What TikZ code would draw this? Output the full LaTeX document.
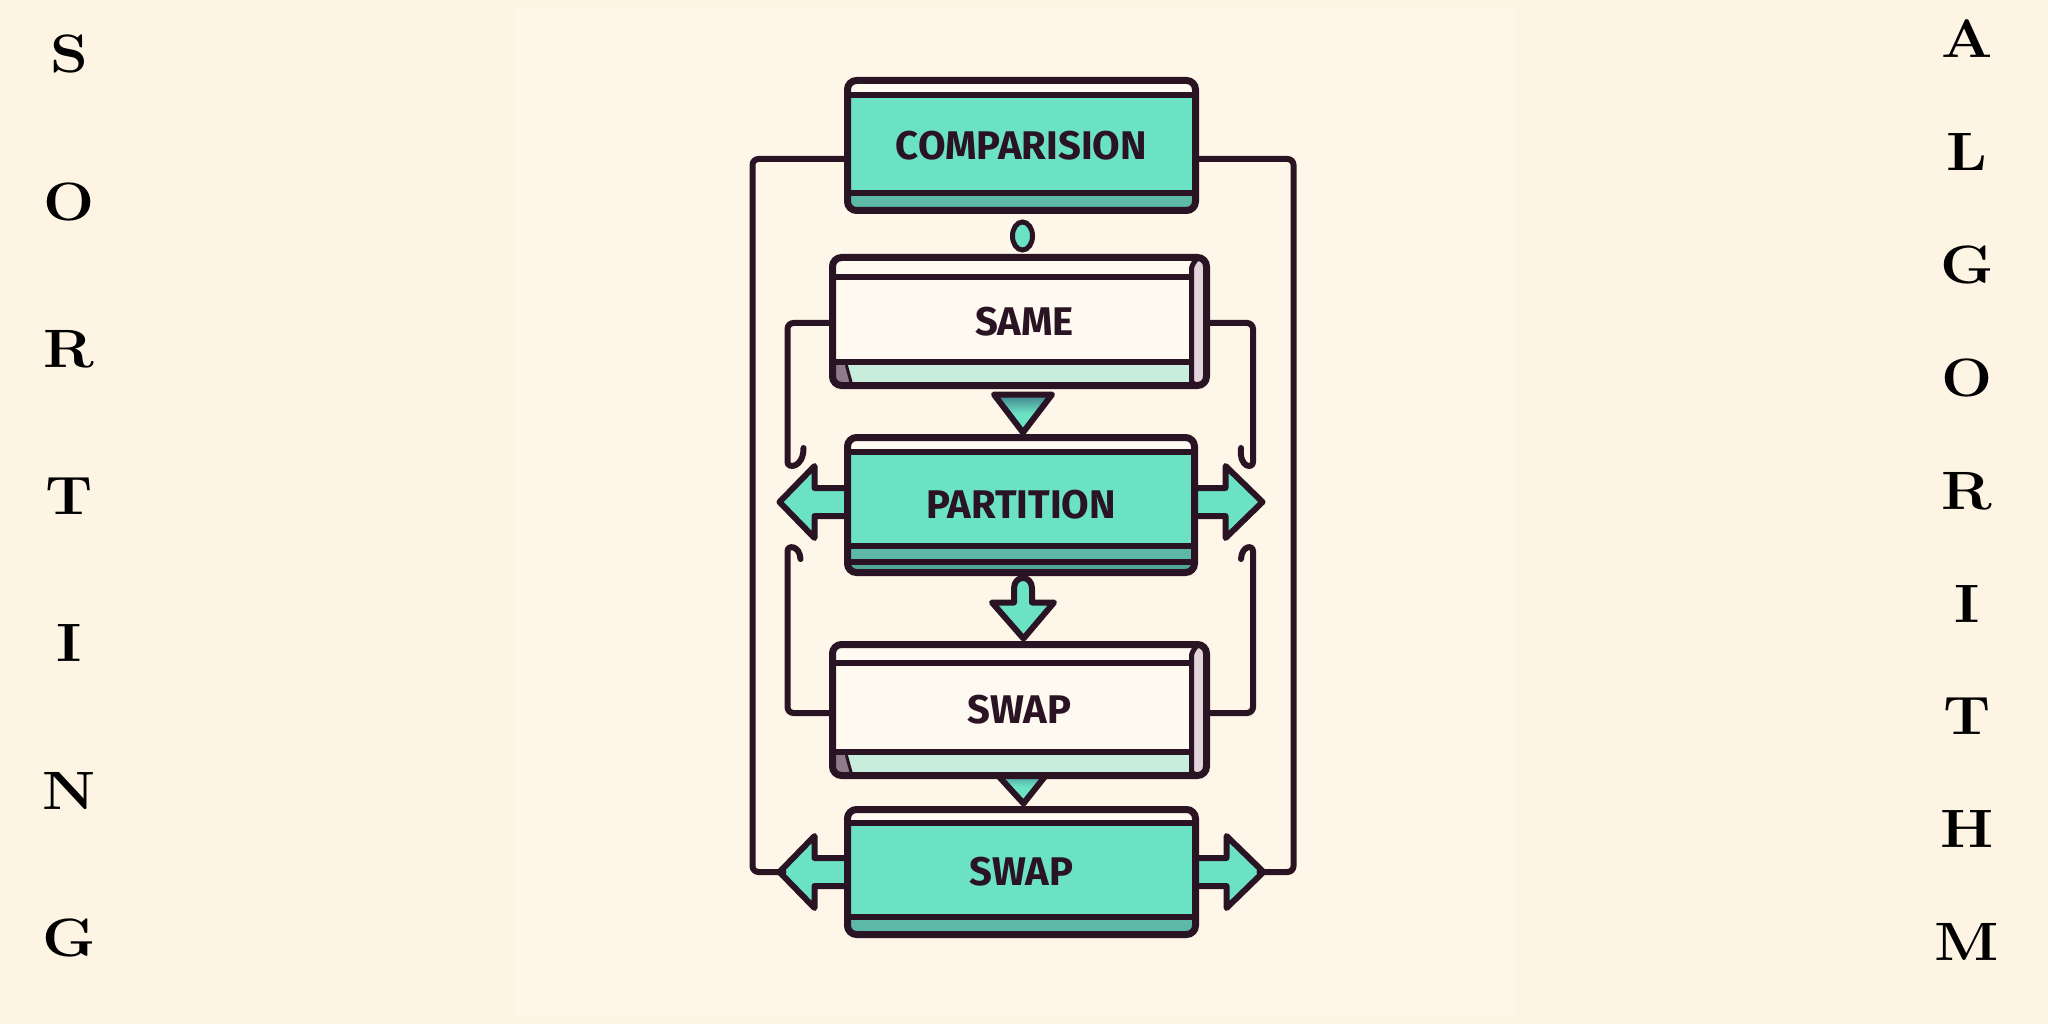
\documentclass[tikz,border=0pt]{standalone}
\usepackage{fontspec}
\newfontfamily\boxfont{Fira Sans}
\usetikzlibrary{calc}
\definecolor{bgc}{HTML}{FDF4E3}
\definecolor{bgl}{HTML}{FEF6E8}
\definecolor{ink}{HTML}{2A1424}
\definecolor{tealA}{HTML}{6CE2C4}
\definecolor{tealB}{HTML}{5DB8A8}
\definecolor{tealC}{HTML}{52A898}
\definecolor{tealD}{HTML}{3F7F8C}
\definecolor{mint}{HTML}{C8EDDC}
\definecolor{paper}{HTML}{FFFAF1}
\definecolor{face}{HTML}{E2D4DA}
\definecolor{facedark}{HTML}{8E7B8C}
\pgfdeclarelayer{back}
\pgfdeclarelayer{bg}
\pgfsetlayers{back,bg,main}
\tikzset{
  boxbase/.style={draw=ink, line width=7pt, rounded corners=9pt, outer sep=0pt, inner sep=0pt,
    font=\boxfont\bfseries\fontsize{40}{40}\selectfont, text=ink},
  tealbox/.style n args={4}{boxbase, fill=tealA, minimum width=#1pt, minimum height=#2pt,
    path picture={
      \coordinate (pNW) at (path picture bounding box.north west);
      \coordinate (pNE) at (path picture bounding box.north east);
      \coordinate (pSW) at (path picture bounding box.south west);
      \coordinate (pSE) at (path picture bounding box.south east);
      \fill[paper] ([shift={(-5,-5)}]pNW) rectangle ([shift={(5,#3)}]pNE);
      \fill[tealB] ([shift={(-5,-#4)}]pSW) rectangle ([shift={(5,5)}]pSE);
      \draw[ink, line width=6pt] ([shift={(-5,#3)}]pNW) -- ([shift={(5,#3)}]pNE);
      \draw[ink, line width=6pt] ([shift={(-5,-#4)}]pSW) -- ([shift={(5,-#4)}]pSE);
    }},
  partbox/.style n args={3}{boxbase, fill=tealA, minimum width=#1pt, minimum height=#2pt,
    path picture={
      \coordinate (pNW) at (path picture bounding box.north west);
      \coordinate (pNE) at (path picture bounding box.north east);
      \coordinate (pSW) at (path picture bounding box.south west);
      \coordinate (pSE) at (path picture bounding box.south east);
      \fill[paper] ([shift={(-5,-5)}]pNW) rectangle ([shift={(5,#3)}]pNE);
      \fill[tealB] ([shift={(-5,-27)}]pSW) rectangle ([shift={(5,-11)}]pSE);
      \fill[tealC] ([shift={(-5,-11)}]pSW) rectangle ([shift={(5,5)}]pSE);
      \draw[ink, line width=6pt] ([shift={(-5,#3)}]pNW) -- ([shift={(5,#3)}]pNE);
      \draw[ink, line width=6pt] ([shift={(-5,-27)}]pSW) -- ([shift={(5,-27)}]pSE);
      \draw[ink, line width=6pt] ([shift={(-5,-11)}]pSW) -- ([shift={(5,-11)}]pSE);
    }},
  whitebox/.style n args={4}{boxbase, fill=paper, minimum width=#1pt, minimum height=#2pt,
    path picture={
      \coordinate (pNW) at (path picture bounding box.north west);
      \coordinate (pNE) at (path picture bounding box.north east);
      \coordinate (pSW) at (path picture bounding box.south west);
      \coordinate (pSE) at (path picture bounding box.south east);
      \fill[mint] ([shift={(-5,-#4)}]pSW) rectangle ([shift={(5,5)}]pSE);
      \fill[facedark] ([shift={(-5,-#4)}]pSW) -- ([shift={(13,-#4)}]pSW) -- ([shift={(20,5)}]pSW) -- ([shift={(-5,5)}]pSW) -- cycle;
      \draw[ink, line width=3pt] ([shift={(13,-#4)}]pSW) -- ([shift={(20,2)}]pSW);
      \fill[face] ([shift={(-3,-4)}]pNE) .. controls ([shift={(-13,2)}]pNE) and ([shift={(-15,10)}]pNE) .. ([shift={(-15,20)}]pNE)
         -- ([shift={(-15,-12)}]pSE) .. controls ([shift={(-15,-4)}]pSE) and ([shift={(-10,0)}]pSE) .. ([shift={(-5,4)}]pSE)
         -- ([shift={(6,6)}]pSE) -- ([shift={(6,-6)}]pNE) -- cycle;
      \draw[ink, line width=5pt] ([shift={(-3,-4)}]pNE) .. controls ([shift={(-13,2)}]pNE) and ([shift={(-15,10)}]pNE) .. ([shift={(-15,20)}]pNE)
         -- ([shift={(-15,-12)}]pSE) .. controls ([shift={(-15,-4)}]pSE) and ([shift={(-10,0)}]pSE) .. ([shift={(-5,4)}]pSE);
      \draw[ink, line width=6pt] ([shift={(-5,#3)}]pNW) -- ([shift={(-15,#3)}]pNE);
      \draw[ink, line width=6pt] ([shift={(-5,-#4)}]pSW) -- ([shift={(-15,-#4)}]pSE);
    }},
  arrowshape/.style={fill=tealA, draw=ink, line width=6pt, line join=round},
  conn/.style={draw=ink, line width=6pt, rounded corners=6pt, line cap=round},
  sletter/.style={font=\bfseries\fontsize{54}{54}\selectfont, text=black, inner sep=0pt, text height=38pt, text depth=0pt}
}
\begin{document}
\begin{tikzpicture}[x=1pt,y=-1pt]
\useasboundingbox (0,0) rectangle (2048,1024);
\begin{pgfonlayer}{back}
  \fill[bgc] (0,0) rectangle (2048,1024);
  \fill[bgl] (516,8) rectangle (1515,1016);
\end{pgfonlayer}

% side letters
\foreach \ch [count=\i from 0] in {S,O,R,T,I,N,G}
  \node[sletter] (sl\i) at (69,{54+147.2*\i}) {\scalebox{1.12}[1]{\ch}};
\foreach \ch [count=\i from 0] in {A,L,G,O,R,I,T,H,M}
  \node[sletter] (al\i) at (1967,{39+112.8*\i}) {\scalebox{1.12}[1]{\ch}};

% boxes
\node[tealbox={348}{130}{14.5}{17.5}] (cmp) at (1021.5,145.5) {COMPARISION};
\node[whitebox={374}{128}{19.5}{23.5}] (same) at (1019.5,321.5) {\hspace*{10pt}SAME};
\node[partbox={347}{135}{14.5}] (part) at (1021,505) {PARTITION};
\node[whitebox={374}{131}{18.5}{23.5}] (swap1) at (1019.5,710) {SWAP};
\node[tealbox={348}{125}{13.5}{17.5}] (swap2) at (1021.5,872) {SWAP};

% side arrows (behind boxes)
\begin{pgfonlayer}{bg}
  \filldraw[arrowshape, shift={($(part.west)+(0,-3)$)}] (6,-14) -- (-33,-14) -- (-33,-36) -- (-68,0) -- (-33,36) -- (-33,14) -- (6,14);
  \filldraw[arrowshape, shift={($(part.east)+(0,-3)$)}] (-6,-14) -- (31,-14) -- (31,-36) -- (68,0) -- (31,36) -- (31,14) -- (-6,14);
  \filldraw[arrowshape, shift={(swap2.west)}] (6,-14) -- (-33,-14) -- (-33,-36) -- (-68,0) -- (-33,36) -- (-33,14) -- (6,14);
  \filldraw[arrowshape, shift={(swap2.east)}] (-6,-14) -- (31,-14) -- (31,-36) -- (68,0) -- (31,36) -- (31,14) -- (-6,14);
  % triangle swap1 -> swap2
  \filldraw[arrowshape, top color=tealD, bottom color=tealA, middle color=tealA]
    ($(swap1.south)+(-27,-6)$) -- ($(swap1.south)+(31,-6)$) -- ($(swap2.north)+(2,-6)$) -- cycle;
\end{pgfonlayer}

% oval between comparision and same
\draw[ink, line width=5pt, fill=tealA] ($(cmp.south)!.5!(same.north)+(2,2)$) ellipse [x radius=10, y radius=14];

% triangle same -> partition
\coordinate (t1) at ($(part.north)+(2,-5)$);
\filldraw[arrowshape, top color=tealD, bottom color=tealA, middle color=tealA]
  ($(t1)+(-29,-38)$) -- ($(t1)+(29,-38)$) -- (t1) -- cycle;

% down arrow partition -> swap1
\coordinate (d1) at ($(part.south)+(2,0)$);
\filldraw[arrowshape] ($(d1)+(-9,30)$) -- ($(d1)+(-9,16)$) .. controls ($(d1)+(-9,2)$) and ($(d1)+(9,2)$) .. ($(d1)+(9,16)$)
  -- ($(d1)+(9,30)$) -- ($(d1)+(31,30)$) -- ($(swap1.north)+(4,-6)$) -- ($(d1)+(-31,30)$) -- cycle;

% outer loop
\coordinate (sw2L) at ($(swap2.west)+(-64,0)$);
\coordinate (sw2R) at ($(swap2.east)+(64,0)$);
\draw[conn] ($(cmp.west)+(0,13.5)$) -- ++(-95,0) |- (sw2L);
\draw[conn] ($(cmp.east)+(0,13.5)$) -- ++(98,0) |- (sw2R);

% inner loops with hooks
\coordinate (hLT) at ($(part.west)+(-60,-49)$);
\coordinate (hLB) at ($(part.west)+(-60,52)$);
\coordinate (hRT) at ($(part.east)+(58.5,-49)$);
\coordinate (hRB) at ($(part.east)+(58.5,52)$);
\draw[conn] ($(same.west)+(0,1.5)$) -| (hLT) .. controls ($(hLT)+(0,13)$) and ($(hLT)+(16,12)$) .. ($(hLT)+(16,-8)$);
\draw[conn] ($(same.east)+(0,1.5)$) -| (hRT) .. controls ($(hRT)+(0,13)$) and ($(hRT)+(-14,12)$) .. ($(hRT)+(-12,-8)$);
\draw[conn] ($(hLB)+(13,2)$) .. controls ($(hLB)+(12,-12)$) and ($(hLB)+(0,-12)$) .. (hLB) |- ($(swap1.west)+(0,3)$);
\draw[conn] ($(hRB)+(-12,2)$) .. controls ($(hRB)+(-11,-12)$) and ($(hRB)+(0,-12)$) .. (hRB) |- ($(swap1.east)+(0,3)$);
\end{tikzpicture}
\end{document}
